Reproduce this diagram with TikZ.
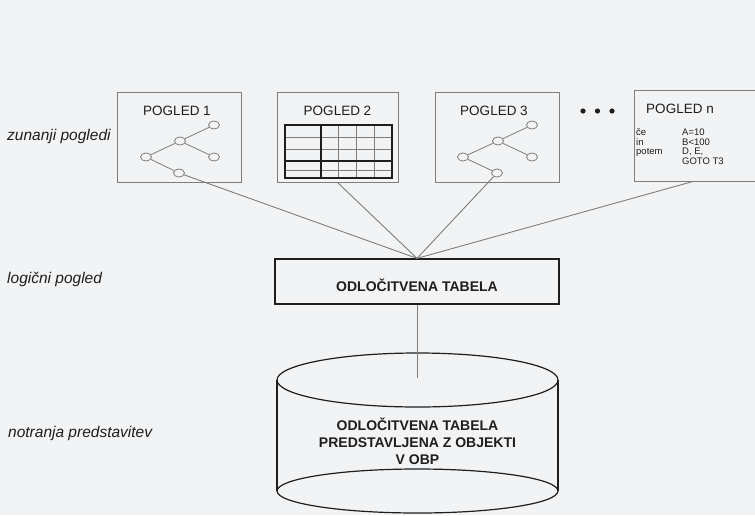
\documentclass[tikz,border=0pt]{standalone}
\usepackage{fontspec}
\setmainfont{Liberation Sans}
\usetikzlibrary{shapes.geometric}
\definecolor{paper}{RGB}{241,243,245}
\definecolor{frame}{RGB}{125,125,125}
\definecolor{ink}{RGB}{30,30,30}
\begin{document}
\begin{tikzpicture}[x=1pt,y=-1pt]
\tikzstyle{view}=[draw=frame,line width=0.9pt,minimum width=124pt,minimum height=90pt,inner sep=0pt];
\tikzstyle{title}=[text=ink,inner sep=0pt,font=\fontsize{13.5}{13.5}\selectfont];
\tikzstyle{tn}=[ellipse,draw=frame,line width=0.8pt,fill=paper,minimum width=11pt,minimum height=8pt,inner sep=0pt];
\tikzstyle{tree}=[draw=frame,line width=0.8pt];
\tikzstyle{conn}=[draw=frame,line width=0.9pt];
\tikzstyle{side}=[anchor=base west,inner sep=0pt,text=ink,font=\itshape\fontsize{15.5}{15.5}\selectfont];
\tikzstyle{heavy}=[text=ink,inner sep=0pt,align=center,font=\bfseries\fontsize{14}{17}\selectfont];
\tikzstyle{dbline}=[draw=ink,line width=1.2pt];
\fill [paper] (0,0) rectangle (755,515);
\useasboundingbox (0,0) rectangle (755,515);

\node [side] (lz) at (7,140) {zunanji pogledi};
\node [side] (ll) at (7,283) {logični pogled};
\node [side] (ln) at (8,437) {notranja predstavitev};

\node [view] (v1) at (179.5,137) {};
\node [title] (t1) at (177,110.5) {POGLED 1};
\node [tn] (a1) at (146,157) {};
\node [tn] (b1) at (180,141) {};
\node [tn] (c1) at (214,125) {};
\node [tn] (d1) at (214,157) {};
\node [tn] (e1) at (179,173) {};
\draw [tree] (a1) -- (b1);
\draw [tree] (b1) -- (c1);
\draw [tree] (b1) -- (d1);
\draw [tree] (a1) -- (e1);

\node [view,minimum width=121pt] (v2) at (337.5,137) {};
\node [title] (t2) at (337.5,110.5) {POGLED 2};
\draw [frame,line width=0.6pt] (338,125) -- (338,178) (356,125) -- (356,178) (374,125) -- (374,178);
\draw [frame,line width=0.6pt] (285,137) -- (392,137) (285,149) -- (392,149) (285,170) -- (392,170);
\draw [ink,line width=1.6pt] (285,125) rectangle (392,178);
\draw [ink,line width=1.6pt] (321,125) -- (321,178) (285,161) -- (392,161);

\node [view] (v3) at (497,137) {};
\node [title] (t3) at (494,110.5) {POGLED 3};
\node [tn] (a3) at (463,157) {};
\node [tn] (b3) at (498,141) {};
\node [tn] (c3) at (532,125) {};
\node [tn] (d3) at (532,157) {};
\node [tn] (e3) at (497,173) {};
\draw [tree] (a3) -- (b3);
\draw [tree] (b3) -- (c3);
\draw [tree] (b3) -- (d3);
\draw [tree] (a3) -- (e3);

\foreach \x in {583,597.5,612} \fill [ink] (\x,111) circle (2.6pt);

\node [view,minimum height=91pt] (vn) at (696,135.5) {};
\node [title] (tn) at (680,109) {POGLED n};
\node [anchor=north west,inner sep=0pt,text=ink,font=\fontsize{9.5}{9.4}\selectfont] (rule) at (636,128.4)
  {\begin{tabular}{@{}p{46pt}@{}l@{}}če & A=10\\ in & B<100\\ potem & D, E,\\ & GOTO T3\end{tabular}};

\node [draw=ink,line width=1.3pt,minimum width=284pt,minimum height=45pt] (tab) at (417,281.5) {};
\node [heavy] (tabtxt) at (417,285.5) {ODLOČITVENA TABELA};

\draw [conn] (e1) -- (tab.north);
\draw [conn] (v2.south) -- (tab.north);
\draw [conn] (e3) -- (tab.north);
\draw [conn] (vn.south) ++(-3,0) coordinate (vnout) (vnout) -- (tab.north);

\draw [dbline] (277,380) -- (277,491);
\draw [dbline] (558,380) -- (558,491);
\draw [dbline] (417.5,380) ellipse (140.5pt and 27pt);
\draw [dbline] (417.5,491) ellipse (140.5pt and 22pt);
\coordinate (dbtop) at (417,378);
\draw [draw=frame,line width=0.9pt] (tab.south) -- (dbtop);
\node [heavy] (dbtxt) at (417.5,441.5) {ODLOČITVENA TABELA\\PREDSTAVLJENA Z OBJEKTI\\V OBP};
\end{tikzpicture}
\end{document}
